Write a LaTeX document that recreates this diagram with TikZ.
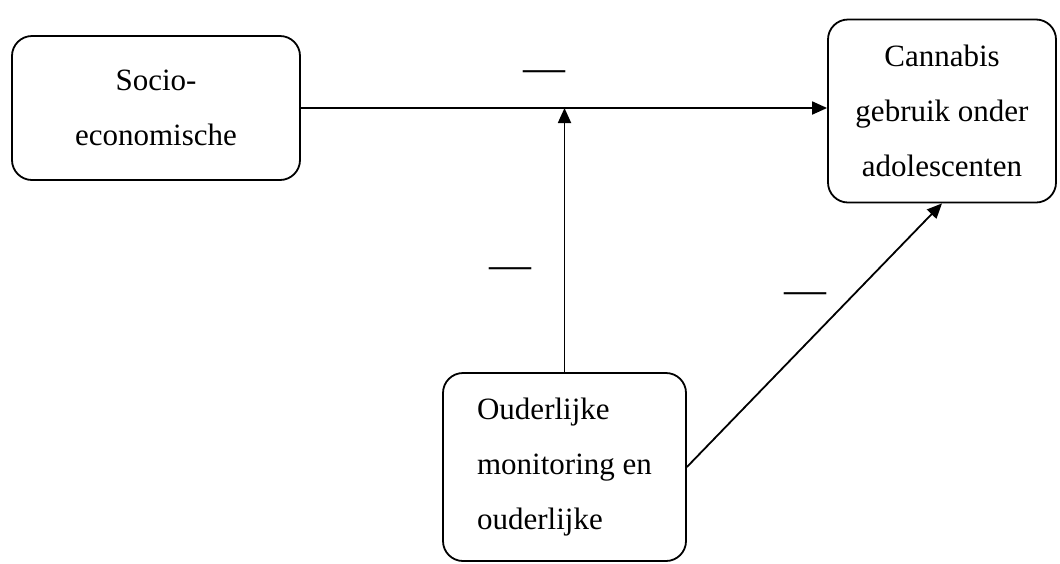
\documentclass[tikz,border=0pt]{standalone}
\usepackage{fontspec}
\setmainfont{Liberation Serif}
\usetikzlibrary{positioning,arrows.meta,calc}
\tikzset{
  >={Triangle[length=7.5pt,width=6.5pt]},
  box/.style={draw=black, line width=0.9pt, rounded corners=10pt, fill=white,
              inner sep=0pt, font=\fontsize{15.5}{27.5}\selectfont},
  sign/.style={font=\fontsize{21}{21}\selectfont, inner sep=0pt},
  l/.style={->, line width=0.9pt, draw=black},
}
\begin{document}
\begin{tikzpicture}[x=0.5pt, y=-0.5pt]
  \useasboundingbox (0,0) rectangle (1060,563);
  \node[box, minimum width=144pt, minimum height=72pt, align=center] (soc) at (156,108)
    {Socio-\\economische};
  \node[box, minimum width=114pt, minimum height=91.5pt, align=center] (can) at (942,111)
    {Cannabis\\gebruik onder\\adolescenten};
  \node[box, minimum width=121.5pt, minimum height=94pt, align=left] (oud) at (564.5,467)
    {Ouderlijke\\monitoring en\\ouderlijke};
  \coordinate (mid) at (oud.north |- soc.east);
  \draw[l] (soc.east) -- (soc.east -| can.west);
  \draw[l] (oud.north) -- (mid);
  \draw[l] (oud.east) -- (can.south);
  % signs
  \node[sign] (s1) at (544,76) {—};
  \node[sign] (s2) at (510,273) {—};
  \node[sign] (s3) at (805,298) {—};
\end{tikzpicture}
\end{document}
